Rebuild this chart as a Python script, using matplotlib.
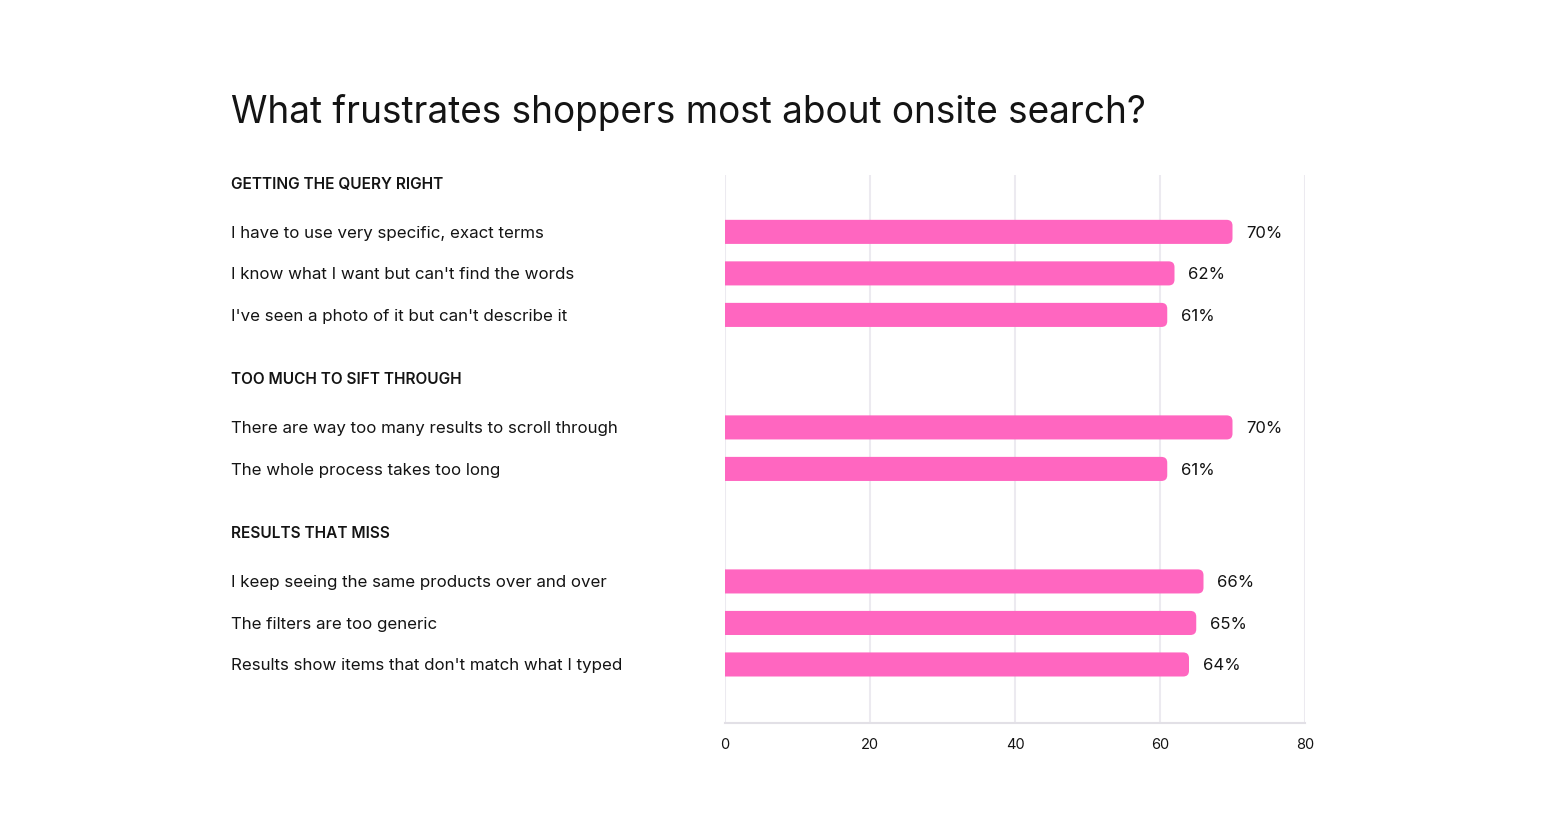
import matplotlib.pyplot as plt
from matplotlib.patches import FancyBboxPatch
import matplotlib.transforms as mtransforms

plt.rcParams['font.family'] = ['Inter', 'DejaVu Sans']

# Datos
grupos = ['GETTING THE QUERY RIGHT', 'TOO MUCH TO SIFT THROUGH', 'RESULTS THAT MISS']
etiquetas = [
    ["I have to use very specific, exact terms",
     "I know what I want but can't find the words",
     "I've seen a photo of it but can't describe it"],
    ["There are way too many results to scroll through",
     "The whole process takes too long"],
    ["I keep seeing the same products over and over",
     "The filters are too generic",
     "Results show items that don't match what I typed"],
]
valores = [
    [70, 62, 61],
    [70, 61],
    [66, 65, 64],
]
ticks = [0, 20, 40, 60, 80]

rosa = '#FF66C0'
texto = '#141414'

fig = plt.figure(figsize=(15.52, 8.13), dpi=100)
ax = fig.add_axes([725 / 1552, 1 - 723 / 813, 580 / 1552, 548 / 813])

# posiciones verticales (en unidades de fila)
y = 0.22
pos_grupos, pos_filas, vals, labs = [], [], [], []
for g, etq, val in zip(grupos, etiquetas, valores):
    pos_grupos.append(y)
    y += 1.15
    for e, v in zip(etq, val):
        pos_filas.append(y)
        vals.append(v)
        labs.append(e)
        y += 1.0
    y += 0.56

ax.set_xlim(0, 80)
ax.set_ylim(13.2, 0)

alto = 0.58
bars = ax.barh(pos_filas, vals, height=alto, color='none')
aspect = (580 / 80) / 41.5
for b, v in zip(bars, vals):
    x0, y0 = b.get_x(), b.get_y()
    p = FancyBboxPatch((x0 - 2, y0), v + 2, b.get_height(),
                       boxstyle='round,pad=0,rounding_size=0.8',
                       mutation_aspect=aspect, facecolor=rosa,
                       edgecolor='none', zorder=3)
    ax.add_patch(p)
    ax.text(v + 1.9, b.get_y() + b.get_height() / 2 + 0.03, f'{v}%',
            va='center', ha='left', fontsize=12, color=texto)

ax.set_xticks(ticks)
ax.set_xticklabels([str(t) for t in ticks], fontsize=10.5, color=texto)
ax.tick_params(axis='x', length=0, pad=11)
ax.set_yticks([])
ax.grid(axis='x', color='#ECEAF0', linewidth=1.5, zorder=0)
ax.set_axisbelow(True)
for s in ['top', 'left', 'right']:
    ax.spines[s].set_visible(False)
ax.spines['bottom'].set_color('#E2E0E6')
ax.spines['bottom'].set_linewidth(1.5)

# textos a la izquierda
trans = mtransforms.blended_transform_factory(fig.transFigure, ax.transData)
x_txt = 231 / 1552
for g, yp in zip(grupos, pos_grupos):
    ax.text(x_txt, yp, g, transform=trans, va='center', ha='left',
            fontsize=11.1, fontweight='semibold', color=texto, clip_on=False)
for e, yp in zip(labs, pos_filas):
    ax.text(x_txt, yp + 0.03, e, transform=trans, va='center', ha='left',
            fontsize=12.2, color=texto, clip_on=False)

fig.text(x_txt, 1 - 113 / 813, 'What frustrates shoppers most about onsite search?',
         ha='left', va='center', fontsize=26.6, color=texto)

fig.savefig('out.png', dpi=100)
